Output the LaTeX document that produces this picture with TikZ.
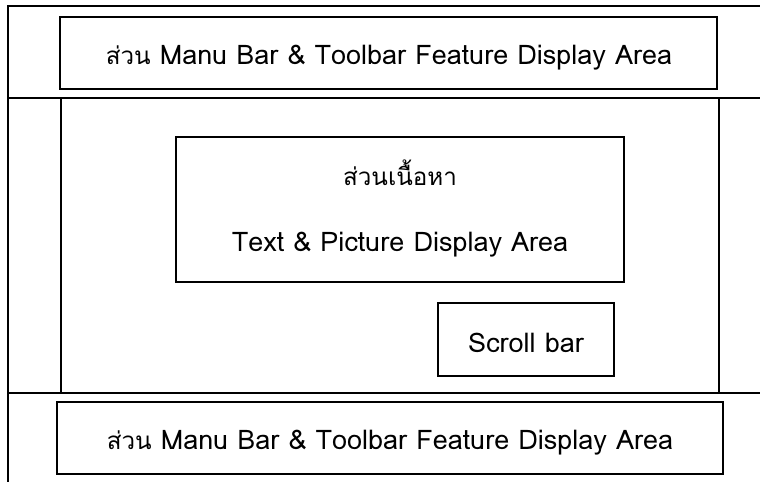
\documentclass[tikz,border=0pt]{standalone}
\usepackage{fontspec}
\newfontfamily\thaifont[Script=Thai]{Loma}
% Thai words are set a little smaller than the Latin text
\newcommand{\thw}[1]{{\fontsize{24.2}{28}\selectfont #1}}
\begin{document}
\begin{tikzpicture}[x=1pt,y=-1pt,
  frame/.style={line width=1.4pt},
  panel/.style={draw,line width=1.4pt,rectangle,inner sep=0pt},
  label/.style={font=\thaifont\fontsize{27}{31}\selectfont,anchor=base,inner sep=0pt}]
\useasboundingbox (0,0) rectangle (760,482);
% page frame and band separators
\coordinate (tr) at (760,6);
\coordinate (tl) at (8,6);
\coordinate (bl) at (8,482);
\coordinate (s1l) at (8,98);
\coordinate (s1r) at (760,98);
\coordinate (s2l) at (8,393);
\coordinate (s2r) at (760,393);
\draw[frame] (tr) -- (tl) -- (bl);
\draw[frame] (s1l) -- (s1r);
\draw[frame] (s2l) -- (s2r);
% content area
\node[panel,minimum width=658pt,minimum height=295pt] (content) at (390,245.5) {};
% menu bars
\node[panel,minimum width=657pt,minimum height=72pt] (topbar) at (388.5,53) {};
\node[panel,minimum width=666pt,minimum height=72pt] (botbar) at (390,438) {};
\node[label] (toptext) at (389,64) {\thw{ส่วน} Manu Bar \& Toolbar Feature Display Area};
\node[label] (bottext) at (390,449) {\thw{ส่วน} Manu Bar \& Toolbar Feature Display Area};
% text and picture box
\node[panel,minimum width=448pt,minimum height=145pt] (textbox) at (400,209.5) {};
\node[label] (thaititle) at (400,185) {\thw{ส่วนเนื้อหา}};
\node[label] (texttitle) at (400,251) {Text \& Picture Display Area};
% scroll bar box
\node[panel,minimum width=176pt,minimum height=73pt] (scroll) at (526,339.5) {};
\node[label] (scrolltext) at (526,352) {Scroll bar};
\end{tikzpicture}
\end{document}
